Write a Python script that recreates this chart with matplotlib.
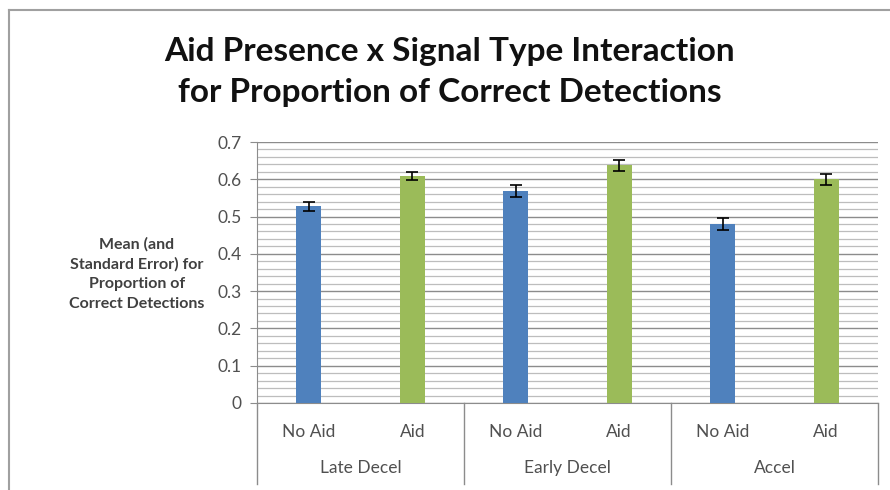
import numpy as np
import matplotlib.pyplot as plt
from matplotlib.lines import Line2D

plt.rcParams['font.family'] = ['Lato', 'DejaVu Sans']

groups = ["Late Decel", "Early Decel", "Accel"]
conditions = ["No Aid", "Aid"]
means = [0.527, 0.609, 0.569, 0.638, 0.480, 0.600]
errors = [0.011, 0.011, 0.017, 0.015, 0.017, 0.015]
colors = ["#4F81BD", "#9BBB59"] * 3

fig = plt.figure(figsize=(8.9, 4.9), dpi=100)
ax = fig.add_axes([0.2888, 0.1776, 0.6977, 0.5326])

x = np.arange(len(means))
ax.bar(x, means, width=0.24, color=colors, zorder=3)
ax.errorbar(x, means, yerr=errors, fmt="none", ecolor="black", elinewidth=1.2,
            capsize=4, capthick=1.2, zorder=4)

ax.set_xlim(-0.5, 5.5)
ax.set_ylim(0, 0.7)
ax.set_yticks(np.arange(0, 0.71, 0.1))
ax.set_yticklabels(["0", "0.1", "0.2", "0.3", "0.4", "0.5", "0.6", "0.7"])
ax.set_yticks(np.arange(0, 0.7, 0.02), minor=True)
ax.grid(axis="y", which="major", color="#8c8c8c", linewidth=1.0, zorder=0)
ax.grid(axis="y", which="minor", color="#bdbdbd", linewidth=0.9, zorder=0)
ax.tick_params(axis="y", which="minor", length=0)
ax.tick_params(axis="y", which="major", length=5, color="#8c8c8c",
               labelsize=12.5, labelcolor="#505050", pad=6)

ax.set_xticks(x)
ax.set_xticklabels(conditions * 3)
ax.tick_params(axis="x", length=0, labelsize=12.5, labelcolor="#505050", pad=15)

for s in ["top", "right"]:
    ax.spines[s].set_visible(False)
for s in ["left", "bottom"]:
    ax.spines[s].set_color("#8c8c8c")

# category separators below the axis
for b in [-0.5, 1.5, 3.5, 5.5]:
    ax.plot([b, b], [0, -0.31], color="#8c8c8c", linewidth=1.0,
            transform=ax.get_xaxis_transform(), clip_on=False)
for i, g in enumerate(groups):
    ax.text(2 * i + 0.5, -0.25, g, transform=ax.get_xaxis_transform(),
            ha="center", va="center", fontsize=12.5, color="#505050")

fig.text(0.154, 0.441, "Mean (and\nStandard Error) for\nProportion of\nCorrect Detections",
         ha="center", va="center", fontsize=11.5, fontweight="bold",
         color="#404040", linespacing=1.5)

fig.text(0.505, 0.853, "Aid Presence x Signal Type Interaction\nfor Proportion of Correct Detections",
         ha="center", va="center", fontsize=24, fontweight="bold",
         color="#111111", linespacing=1.5)

# outer chart frame
fig.add_artist(Line2D([9 / 890, 1], [1 - 10 / 490, 1 - 10 / 490], color="#a0a0a0", linewidth=1.5))
fig.add_artist(Line2D([9 / 890, 9 / 890], [0, 1 - 10 / 490], color="#a0a0a0", linewidth=1.5))

fig.savefig("out.png", dpi=100)
